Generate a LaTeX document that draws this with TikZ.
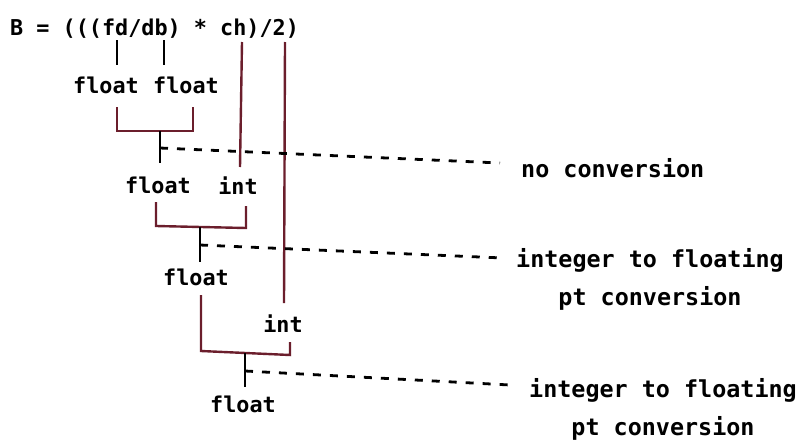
\documentclass[tikz,border=0pt]{standalone}
\usepackage{fontspec}
\newfontfamily\codefont{DejaVu Sans Mono}
\definecolor{brk}{HTML}{6B1E2C}
\begin{document}
\begin{tikzpicture}[x=1pt,y=-1pt,
  code/.style={font=\codefont\bfseries\fontsize{21.8}{26}\selectfont, inner sep=0pt, anchor=base},
  note/.style={font=\codefont\bfseries\fontsize{23.4}{38}\selectfont, inner sep=0pt, anchor=base, align=center},
  bline/.style={draw=brk, line width=2.4pt},
  stem/.style={draw=black, line width=2.4pt},
  tick/.style={draw=black, line width=2pt},
  lead/.style={draw=black, line width=2.8pt, dash pattern=on 8pt off 9pt}]
\useasboundingbox (0,0) rectangle (801,442);
% texts
\node[code, anchor=base west] (expr) at (10,35) {B = (((fd/db) * ch)/2)};
\node[code] (fa) at (106,93) {float};
\node[code] (fb) at (186,93) {float};
\node[code] (fc) at (158,193) {float};
\node[code] (ia) at (238,194) {int};
\node[code] (fd) at (196,285) {float};
\node[code] (ib) at (283,332) {int};
\node[code] (fe) at (243,412) {float};
\node[note, anchor=base west] (n1) at (521,177) {no conversion};
\node[note] (n2) at (650,305) {integer to floating\\pt conversion};
\node[note] (n3) at (663,435) {integer to floating\\pt conversion};
% coordinates
\coordinate (t1a) at (117,40); \coordinate (t1b) at (117,65);
\coordinate (t2a) at (164,40); \coordinate (t2b) at (164,65);
\coordinate (cha) at (242,42); \coordinate (chb) at (240,167);
\coordinate (twa) at (285,42); \coordinate (twb) at (284,303);
\coordinate (b1l) at (117,107); \coordinate (b1r) at (193,107);
\coordinate (s1a) at (160,131); \coordinate (s1b) at (160,163);
\coordinate (d1a) at (160,148); \coordinate (d1b) at (500,163);
\coordinate (b2l) at (156,202); \coordinate (b2r) at (246,206);
\coordinate (s2a) at (200,227); \coordinate (s2b) at (200,262);
\coordinate (d2a) at (200,245); \coordinate (d2b) at (503,258);
\coordinate (b3l) at (201,295); \coordinate (b3r) at (290,342);
\coordinate (s3a) at (245,353); \coordinate (s3b) at (245,387);
\coordinate (d3a) at (245,371); \coordinate (d3b) at (510,385);
% ticks under operands
\draw[tick] (t1a) -- (t1b);
\draw[tick] (t2a) -- (t2b);
% long lines
\draw[bline] (cha) -- (chb);
\draw[bline] (twa) -- (twb);
% brackets
\draw[bline] (b1l) -- (117,131) -- (193,131) -- (b1r);
\draw[bline] (b2l) -- (156,226) -- (246,228) -- (b2r);
\draw[bline] (b3l) -- (201,351) -- (290,355) -- (b3r);
% stems
\draw[stem] (s1a) -- (s1b);
\draw[stem] (s2a) -- (s2b);
\draw[stem] (s3a) -- (s3b);
% leaders
\draw[lead] (d1a) -- (d1b);
\draw[lead] (d2a) -- (d2b);
\draw[lead] (d3a) -- (d3b);
\end{tikzpicture}
\end{document}
